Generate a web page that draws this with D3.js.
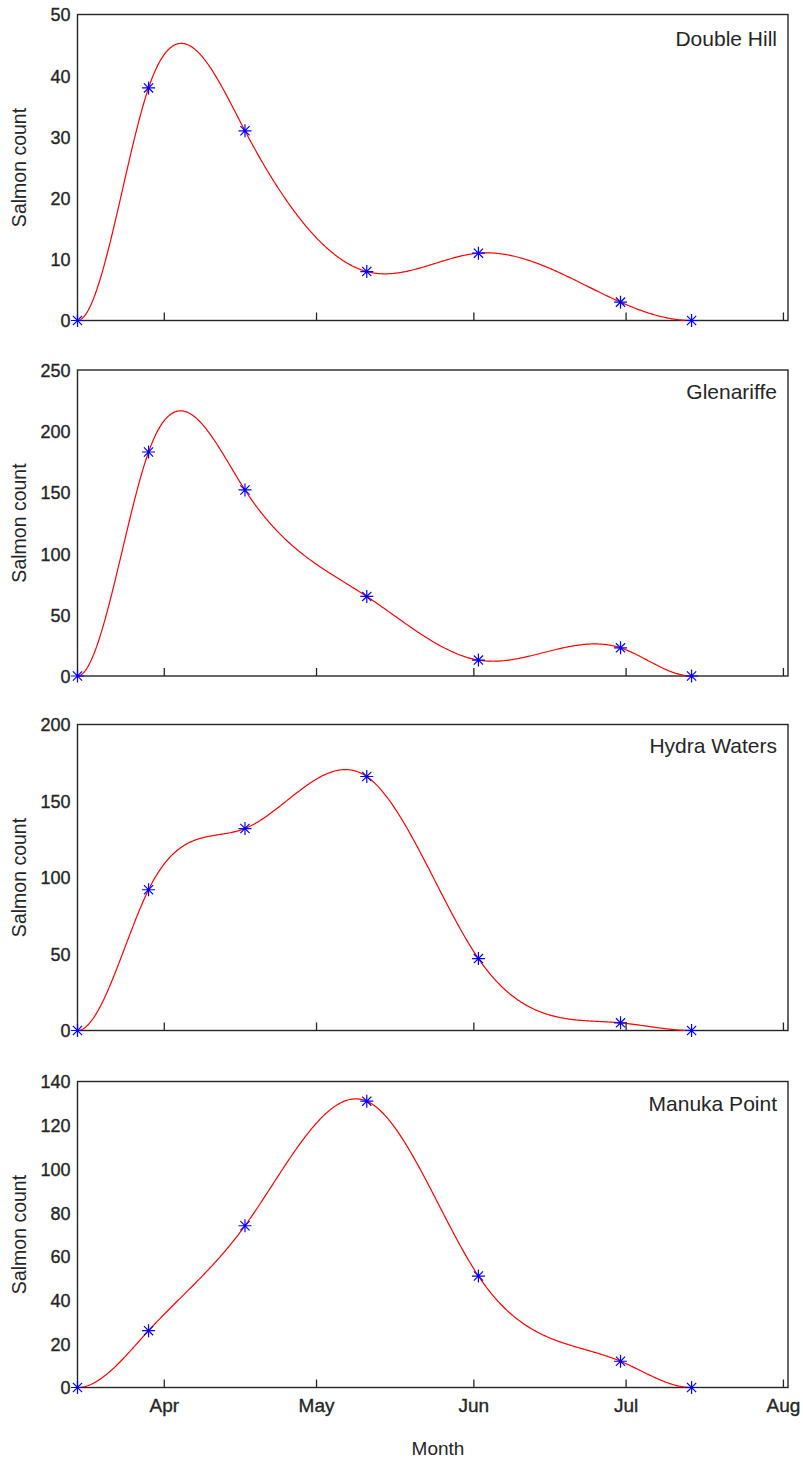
<!DOCTYPE html>
<html>
<head>
<meta charset="utf-8">
<script src="https://cdn.jsdelivr.net/npm/d3@7"></script>
<style>
  html, body { margin: 0; padding: 0; background: #fff; }
  svg { display: block; }
  text { font-family: "Liberation Sans", Arial, sans-serif; fill: #262626; }
</style>
</head>
<body>
<svg id="chart" width="803" height="1462"></svg>
<script>
// ---------------- data ----------------
const sites = ["Double Hill", "Glenariffe", "Hydra Waters", "Manuka Point"];
const sampleDates = ["2013-03-15", "2013-03-29", "2013-04-17", "2013-05-11", "2013-06-02", "2013-06-30", "2013-07-14"];
const doubleHill  = [0, 38, 31, 8, 11, 3, 0];
const glenariffe  = [0, 183, 152, 65, 13, 23, 0];
const hydraWaters = [0, 92, 132, 166, 47, 5, 0];
const manukaPoint = [0, 26, 74, 131, 51, 12, 0];
const yMaxes = [50, 250, 200, 140];
const yTickSteps = [10, 50, 50, 20];
const monthTicks = ["2013-04-01", "2013-05-01", "2013-06-01", "2013-07-01", "2013-08-01"];
const monthLabels = ["Apr", "May", "Jun", "Jul", "Aug"];
const xDomain = ["2013-03-15", "2013-08-02"];
const xLabel = "Month";
const yLabel = "Salmon count";

const seriesValues = [doubleHill, glenariffe, hydraWaters, manukaPoint];

// ---------------- layout ----------------
const parse = d3.timeParse("%Y-%m-%d");
const svg = d3.select("#chart");
const left = 77.5, right = 788;
const panelTops = [14.5, 370, 724.5, 1081.5];
const panelH = 306;
const titleOffsets = [31, 29, 28, 29];

const x = d3.scaleTime().domain(xDomain.map(parse)).range([left, right]);

// Clamped cubic spline curve (zero end slopes), clipped at the zero line
function splineCurve(yFloor) {
  return function(context) {
    let pts = [];
    return {
      areaStart() {}, areaEnd() {},
      lineStart() { pts = []; },
      point(px, py) { pts.push([+px, +py]); },
      lineEnd() {
        const n = pts.length;
        const X = pts.map(p => p[0]), Y = pts.map(p => p[1]);
        const h = [], dd = [];
        for (let i = 0; i < n - 1; i++) { h.push(X[i + 1] - X[i]); dd.push((Y[i + 1] - Y[i]) / h[i]); }
        const A = Array.from({length: n}, () => new Array(n).fill(0));
        const b = new Array(n).fill(0);
        A[0][0] = 2 * h[0]; A[0][1] = h[0]; b[0] = 6 * (dd[0] - 0);
        for (let i = 1; i < n - 1; i++) {
          A[i][i - 1] = h[i - 1]; A[i][i] = 2 * (h[i - 1] + h[i]); A[i][i + 1] = h[i];
          b[i] = 6 * (dd[i] - dd[i - 1]);
        }
        A[n - 1][n - 2] = h[n - 2]; A[n - 1][n - 1] = 2 * h[n - 2]; b[n - 1] = 6 * (0 - dd[n - 2]);
        for (let c = 0; c < n; c++) {
          let piv = c;
          for (let r = c + 1; r < n; r++) if (Math.abs(A[r][c]) > Math.abs(A[piv][c])) piv = r;
          [A[c], A[piv]] = [A[piv], A[c]]; [b[c], b[piv]] = [b[piv], b[c]];
          for (let r = c + 1; r < n; r++) {
            const f = A[r][c] / A[c][c];
            for (let k = c; k < n; k++) A[r][k] -= f * A[c][k];
            b[r] -= f * b[c];
          }
        }
        const M = new Array(n).fill(0);
        for (let r = n - 1; r >= 0; r--) {
          let s = b[r];
          for (let k = r + 1; k < n; k++) s -= A[r][k] * M[k];
          M[r] = s / A[r][r];
        }
        context.moveTo(X[0], Math.min(Y[0], yFloor));
        for (let i = 0; i < n - 1; i++) {
          const steps = Math.max(2, Math.ceil(h[i]));
          for (let s = 1; s <= steps; s++) {
            const xx = X[i] + h[i] * s / steps;
            const a = X[i + 1] - xx, t = xx - X[i];
            const yy = M[i] * a * a * a / (6 * h[i]) + M[i + 1] * t * t * t / (6 * h[i])
              + (Y[i] / h[i] - M[i] * h[i] / 6) * a + (Y[i + 1] / h[i] - M[i + 1] * h[i] / 6) * t;
            context.lineTo(xx, Math.min(yy, yFloor));
          }
        }
      }
    };
  };
}

const asterisk = "M0,-6.5V6.5M-6.5,0H6.5M-4.6,-4.6L4.6,4.6M-4.6,4.6L4.6,-4.6";

seriesValues.forEach((vals, p) => {
  const top = panelTops[p], bottom = top + panelH;
  const y = d3.scaleLinear().domain([0, yMaxes[p]]).range([bottom, top]);
  const g = svg.append("g");
  const data = sampleDates.map((d, i) => ({date: parse(d), value: vals[i]}));

  const yAxis = d3.axisLeft(y).tickValues(d3.range(0, yMaxes[p] + 1e-9, yTickSteps[p])).tickSize(0).tickPadding(7);
  const ya = g.append("g").attr("transform", `translate(${left},0)`).call(yAxis);
  ya.select(".domain").remove();
  ya.selectAll("text").style("font-size", "18px").attr("fill", "#262626")
    .attr("stroke", "#262626").attr("stroke-width", 0.35).attr("dy", "0.36em");

  const xAxis = d3.axisBottom(x).tickValues(monthTicks.map(parse)).tickSize(-8).tickPadding(11)
    .tickFormat((d, i) => p === 3 ? monthLabels[i] : "");
  const xa = g.append("g").attr("transform", `translate(0,${bottom})`).call(xAxis);
  xa.select(".domain").remove();
  xa.selectAll("line").attr("stroke", "#262626").attr("stroke-width", 1.3);
  xa.selectAll("text").style("font-size", "19px").attr("fill", "#262626")
    .attr("stroke", "#262626").attr("stroke-width", 0.35).attr("dy", "0.71em");

  g.append("rect").attr("x", left).attr("y", top).attr("width", right - left).attr("height", panelH)
    .attr("fill", "none").attr("stroke", "#262626").attr("stroke-width", 1.4);

  g.append("text").attr("transform", `translate(26,${top + panelH / 2}) rotate(-90)`)
    .attr("text-anchor", "middle").style("font-size", "19.5px").text(yLabel);

  g.append("text").attr("x", right - 11).attr("y", top + titleOffsets[p])
    .attr("text-anchor", "end").style("font-size", "21px").text(sites[p]);

  const line = d3.line().x(d => x(d.date)).y(d => y(d.value)).curve(splineCurve(y(0)));
  g.append("path").datum(data).attr("d", line).attr("fill", "none")
    .attr("stroke", "#ff0000").attr("stroke-width", 1.2);

  g.selectAll("path.mk").data(data).join("path").attr("class", "mk")
    .attr("transform", d => `translate(${x(d.date)},${y(d.value)})`)
    .attr("d", asterisk).attr("fill", "none").attr("stroke", "#0000ff").attr("stroke-width", 1.2);
});

svg.append("text").attr("x", 438).attr("y", 1455).attr("text-anchor", "middle")
  .style("font-size", "19px").text(xLabel);
</script>
</body>
</html>
